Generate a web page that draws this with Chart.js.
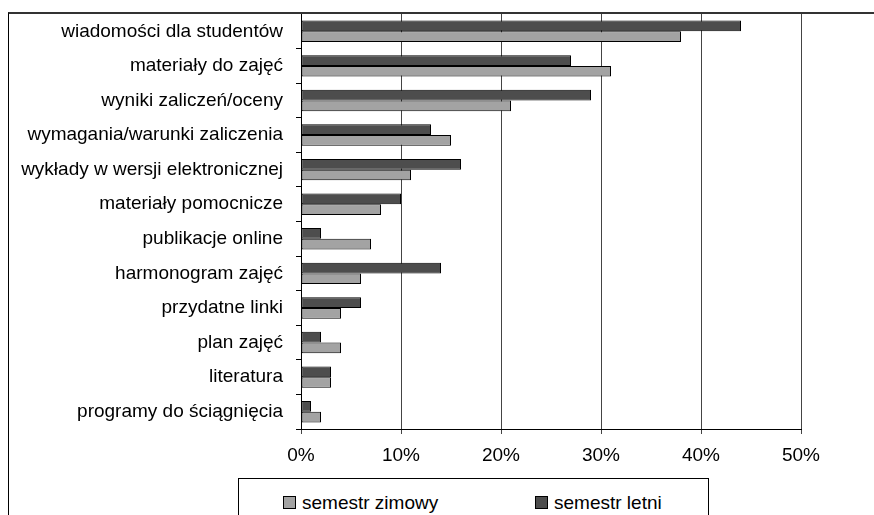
<!DOCTYPE html>
<html>
<head>
<meta charset="utf-8">
<script src="https://cdn.jsdelivr.net/npm/chart.js@4"></script>
<style>
  html, body { margin: 0; padding: 0; background: #fff; }
  #wrap { position: relative; width: 874px; height: 515px; overflow: hidden; }
  #frame { position: absolute; left: 8px; top: 12px; right: -2px; bottom: -2px; border-left: 1px solid #000; border-top: 2px solid #333; }
  #legend { position: absolute; left: 238px; top: 478px; width: 469px; height: 60px; border: 1px solid #000; background: #fff;
            font: 19px "Liberation Sans", Arial, sans-serif; color: #000; }
  #legend span.item { position: absolute; top: 13px; white-space: nowrap; line-height: 22px; }
  #legend span.box { display: inline-block; width: 11px; height: 11px; border: 1px solid #000; margin-right: 6px; vertical-align: 0px; }
</style>
</head>
<body>
<div id="wrap">
  <canvas id="chart" width="874" height="515"></canvas>
  <div id="frame"></div>
  <div id="legend"></div>
</div>
<script>
  const categories = [
    'wiadomości dla studentów',
    'materiały do zajęć',
    'wyniki zaliczeń/oceny',
    'wymagania/warunki zaliczenia',
    'wykłady w wersji elektronicznej',
    'materiały pomocnicze',
    'publikacje online',
    'harmonogram zajęć',
    'przydatne linki',
    'plan zajęć',
    'literatura',
    'programy do ściągnięcia'
  ];

  // percentages of answers
  const letni  = [44, 27, 29, 13, 16, 10, 2, 14, 6, 2, 3, 1];
  const zimowy = [38, 31, 21, 15, 11, 8, 7, 6, 4, 4, 3, 2];

  const xTicks = [0, 10, 20, 30, 40, 50];

  const darkGray = '#4d4d4d';
  const lightGray = '#a3a3a3';
  const font = { family: '"Liberation Sans", Arial, sans-serif', size: 19 };

  const data = {
    labels: categories,
    datasets: [{
      label: 'semestr letni',
      data: letni,
      backgroundColor: darkGray,
      borderColor: '#000',
      borderWidth: 1,
      borderSkipped: false
    },
    {
      label: 'semestr zimowy',
      data: zimowy,
      backgroundColor: lightGray,
      borderColor: '#000',
      borderWidth: 1,
      borderSkipped: false
    }]
  };

  const config = {
    type: 'bar',
    data: data,
    options: {
      indexAxis: 'y',
      responsive: false,
      animation: false,
      layout: { padding: { top: 14, right: 73, bottom: 46, left: 0 } },
      datasets: { bar: { categoryPercentage: 0.62, barPercentage: 1.0 } },
      plugins: { legend: { display: false }, tooltip: { enabled: false } },
      scales: {
        x: {
          min: 0,
          max: 50,
          afterBuildTicks: (scale) => { scale.ticks = xTicks.map(v => ({ value: v })); },
          afterFit: (scale) => {
            scale.height = 40;
            scale.paddingLeft = 0;
            scale.paddingRight = 0;
          },
          ticks: { color: '#000', font: font, padding: 10, maxRotation: 0, callback: (v) => v + '%' },
          grid: { color: '#444', lineWidth: 1, tickLength: 5 },
          border: { color: '#000', width: 1 }
        },
        y: {
          // fixed label column, no extra room above/below the plot
          afterFit: (scale) => {
            scale.width = 301;
            scale.paddingTop = 0;
            scale.paddingBottom = 0;
          },
          ticks: { color: '#000', font: font, padding: 13 },
          grid: { offset: true, drawOnChartArea: false, color: '#000', tickLength: 5 },
          border: { color: '#000', width: 1 }
        }
      }
    }
  };

  const myChart = new Chart(document.getElementById('chart'), config);

  // legend: winter semester first, summer second
  const legendItems = [
    { label: data.datasets[1].label, color: lightGray, left: 44 },
    { label: data.datasets[0].label, color: darkGray, left: 296 }
  ];
  const legend = document.getElementById('legend');
  legendItems.forEach(item => {
    const el = document.createElement('span');
    el.className = 'item';
    el.style.left = item.left + 'px';
    el.innerHTML = '<span class="box" style="background:' + item.color + '"></span>' + item.label;
    legend.appendChild(el);
  });
</script>
</body>
</html>
